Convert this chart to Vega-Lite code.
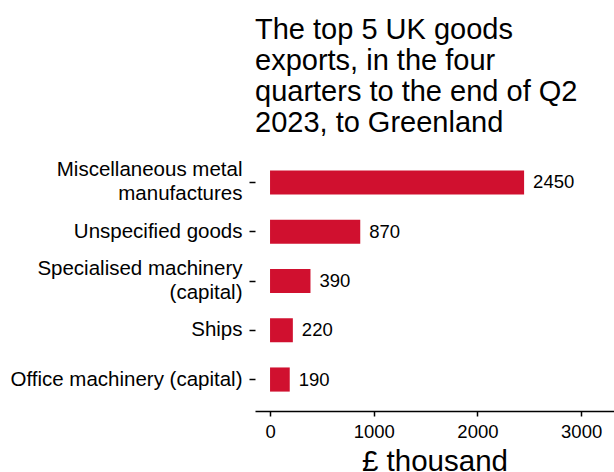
{
  "$schema": "https://vega.github.io/schema/vega-lite/v6.json",
  "autosize": "none",
  "width": 359,
  "height": 254,
  "padding": {"left": 255, "top": 154, "right": 0, "bottom": 64},
  "background": "white",
  "config": {
    "font": "Liberation Sans",
    "view": {"stroke": null}
  },
  "title": {
    "text": ["The top 5 UK goods", "exports, in the four", "quarters to the end of Q2", "2023, to Greenland"],
    "fontSize": 29,
    "fontWeight": "normal",
    "lineHeight": 31,
    "color": "black",
    "anchor": "start",
    "frame": "group",
    "offset": 16
  },
  "data": {
    "values": [
      {"product": "Miscellaneous metal|manufactures", "value": 2450},
      {"product": "Unspecified goods", "value": 870},
      {"product": "Specialised machinery|(capital)", "value": 390},
      {"product": "Ships", "value": 220},
      {"product": "Office machinery (capital)", "value": 190}
    ]
  },
  "encoding": {
    "y": {
      "field": "product",
      "type": "nominal",
      "sort": null,
      "title": null,
      "scale": {"paddingInner": 0.51, "paddingOuter": 0.333},
      "axis": {
        "domain": false,
        "ticks": true,
        "tickSize": 6,
        "tickWidth": 1.5,
        "tickColor": "black",
        "labelPadding": 7,
        "labelFontSize": 20.5,
        "labelColor": "black",
        "labelLineHeight": 24,
        "labelBaseline": "middle",
        "labelOffset": {"condition": {"test": "indexof(datum.value, '|') >= 0", "value": -12}, "value": 0},
        "labelExpr": "split(datum.label, '|')",
        "labelLimit": 300
      }
    },
    "x": {
      "field": "value",
      "type": "quantitative",
      "title": "£ thousand",
      "scale": {"domain": [-145, 3317], "nice": false, "zero": false},
      "axis": {
        "values": [0, 1000, 2000, 3000],
        "format": "d",
        "grid": false,
        "offset": 3,
        "domainColor": "black",
        "domainWidth": 1.5,
        "tickColor": "black",
        "tickWidth": 1.5,
        "tickSize": 5,
        "labelPadding": 6,
        "labelFontSize": 18.5,
        "labelColor": "black",
        "titleFontSize": 29.5,
        "titleFontWeight": "normal",
        "titleColor": "black",
        "titlePadding": 7
      }
    }
  },
  "layer": [
    {
      "mark": {"type": "bar", "color": "#d0102f"},
      "encoding": {"x2": {"datum": 0}}
    },
    {
      "mark": {"type": "text", "align": "left", "baseline": "middle", "dx": 9, "fontSize": 18.5, "color": "black"},
      "encoding": {"text": {"field": "value", "type": "quantitative", "format": "d"}}
    }
  ]
}
